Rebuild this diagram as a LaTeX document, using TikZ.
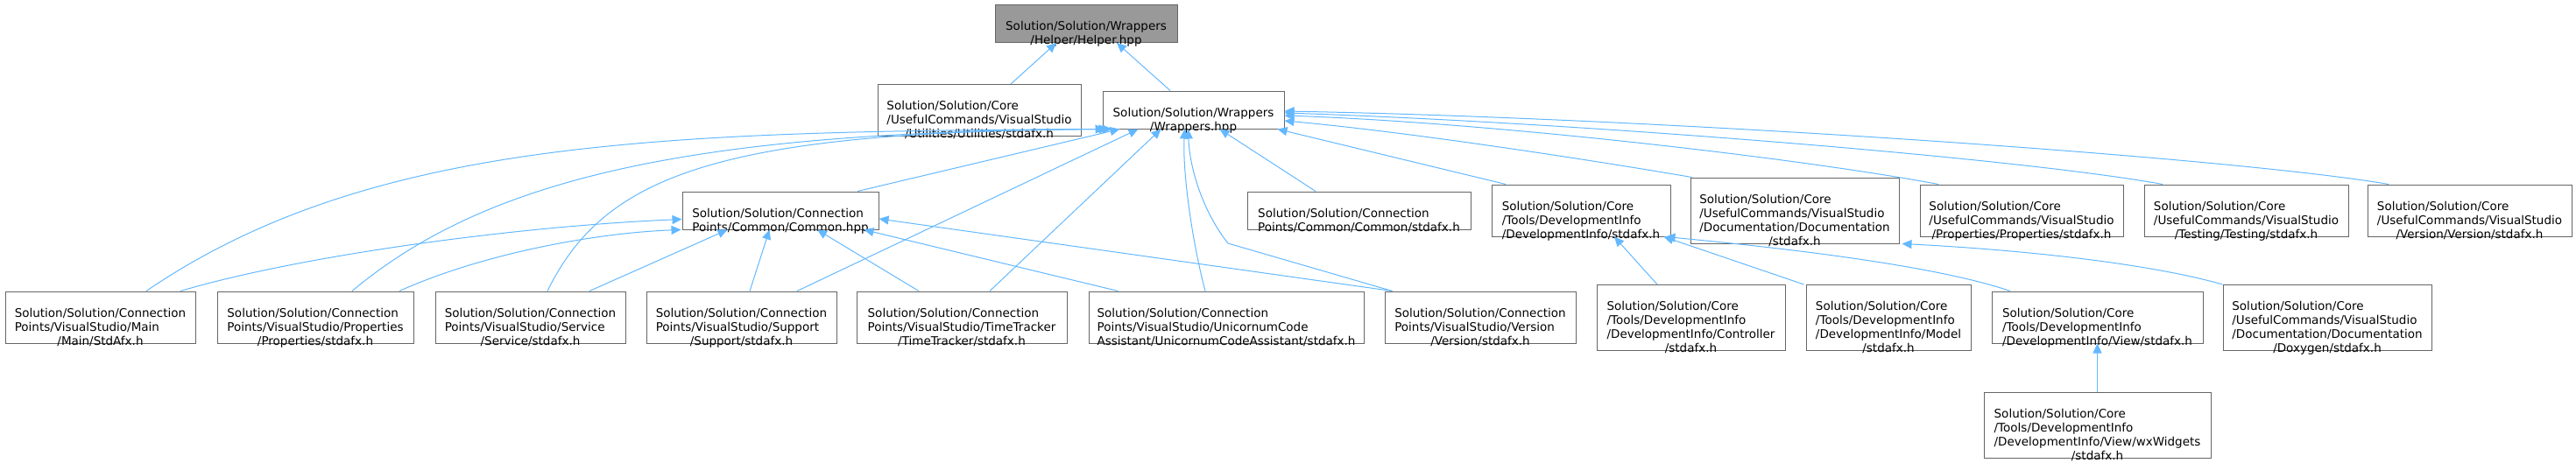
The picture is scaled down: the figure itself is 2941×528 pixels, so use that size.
\documentclass[tikz,border=0pt]{standalone}
\usepackage{fontspec}
\setmainfont{DejaVu Sans}
\usetikzlibrary{arrows.meta}
\definecolor{edgeblue}{HTML}{63B8FF}
\definecolor{boxgray}{HTML}{666666}
\definecolor{rootgray}{HTML}{999999}
% left-aligned lines, last line centred, set a bit low as in the graph
\newcommand{\flines}[2]{\raisebox{-16pt}[0pt][0pt]{\begin{tabular}{@{}l@{}}#1\\\multicolumn{1}{@{}c@{}}{#2}\end{tabular}}}

\begin{document}
\begin{tikzpicture}[
  x=1pt, y=-1pt,
  every node/.style={font=\fontsize{13.5pt}{16pt}\selectfont},
  box/.style={draw=boxgray, fill=white, line width=1pt, inner sep=0pt, minimum width=#1},
  root/.style={box=#1, fill=rootgray},
  h2/.style={minimum height=43pt},
  h3/.style={minimum height=59pt},
  h4/.style={minimum height=75pt},
  arr/.style={-{Triangle[length=11pt, width=10pt]}, edgeblue, line width=1pt},
]
\useasboundingbox (0,0) rectangle (2941,528);

% Row 1
\node[root=208pt, h2] (helper) at (1240, 27) {\flines{Solution/Solution/Wrappers}{/Helper/Helper.hpp}};

% Row 2
\node[box=232pt, h3] (utilities) at (1118, 126) {\flines{Solution/Solution/Core\\/UsefulCommands/VisualStudio}{/Utilities/Utilities/stdafx.h}};
\node[box=207pt, h2] (wrappers) at (1362.5, 125.5) {\flines{Solution/Solution/Wrappers}{/Wrappers.hpp}};

% Row 3
\node[box=224pt, h2] (common) at (891, 240.5) {\flines{Solution/Solution/Connection}{Points/Common/Common.hpp}};
\node[box=255pt, h2] (commonstd) at (1551.5, 240.5) {\flines{Solution/Solution/Connection}{Points/Common/Common/stdafx.h}};
\node[box=204pt, h3] (devinfo) at (1805, 240.5) {\flines{Solution/Solution/Core\\/Tools/DevelopmentInfo}{/DevelopmentInfo/stdafx.h}};
\node[box=238pt, h4] (docu) at (2049, 240.5) {\flines{Solution/Solution/Core\\/UsefulCommands/VisualStudio\\/Documentation/Documentation}{/stdafx.h}};
\node[box=232pt, h3] (propprop) at (2308, 240.5) {\flines{Solution/Solution/Core\\/UsefulCommands/VisualStudio}{/Properties/Properties/stdafx.h}};
\node[box=233pt, h3] (testing) at (2564.5, 240.5) {\flines{Solution/Solution/Core\\/UsefulCommands/VisualStudio}{/Testing/Testing/stdafx.h}};
\node[box=233pt, h3] (versionuc) at (2819.5, 240.5) {\flines{Solution/Solution/Core\\/UsefulCommands/VisualStudio}{/Version/Version/stdafx.h}};

% Row 4
\node[box=217pt, h3] (main) at (114.5, 362.5) {\flines{Solution/Solution/Connection\\Points/VisualStudio/Main}{/Main/StdAfx.h}};
\node[box=224pt, h3] (props) at (360, 362.5) {\flines{Solution/Solution/Connection\\Points/VisualStudio/Properties}{/Properties/stdafx.h}};
\node[box=217pt, h3] (service) at (605.5, 362.5) {\flines{Solution/Solution/Connection\\Points/VisualStudio/Service}{/Service/stdafx.h}};
\node[box=217pt, h3] (support) at (846.5, 362.5) {\flines{Solution/Solution/Connection\\Points/VisualStudio/Support}{/Support/stdafx.h}};
\node[box=240pt, h3] (timetr) at (1098, 362.5) {\flines{Solution/Solution/Connection\\Points/VisualStudio/TimeTracker}{/TimeTracker/stdafx.h}};
\node[box=314pt, h3] (unicorn) at (1400, 362.5) {\flines{Solution/Solution/Connection\\Points/VisualStudio/UnicornumCode}{Assistant/UnicornumCodeAssistant/stdafx.h}};
\node[box=218pt, h3] (versioncp) at (1690, 362.5) {\flines{Solution/Solution/Connection\\Points/VisualStudio/Version}{/Version/stdafx.h}};
\node[box=215pt, h4] (controller) at (1930.5, 363) {\flines{Solution/Solution/Core\\/Tools/DevelopmentInfo\\/DevelopmentInfo/Controller}{/stdafx.h}};
\node[box=188pt, h4] (model) at (2156, 363) {\flines{Solution/Solution/Core\\/Tools/DevelopmentInfo\\/DevelopmentInfo/Model}{/stdafx.h}};
\node[box=241pt, h3] (view) at (2394.5, 362.5) {\flines{Solution/Solution/Core\\/Tools/DevelopmentInfo}{/DevelopmentInfo/View/stdafx.h}};
\node[box=238pt, h4] (doxygen) at (2657, 363) {\flines{Solution/Solution/Core\\/UsefulCommands/VisualStudio\\/Documentation/Documentation}{/Doxygen/stdafx.h}};

% Row 5
\node[box=259pt, h4] (wx) at (2394.5, 485.5) {\flines{Solution/Solution/Core\\/Tools/DevelopmentInfo\\/DevelopmentInfo/View/wxWidgets}{/stdafx.h}};

\coordinate (vbend) at (1402, 278);

% Edges to Helper.hpp
\draw[arr] ([xshift=36pt]utilities.north) -- ([xshift=-34pt]helper.south);
\draw[arr] ([xshift=-26.5pt]wrappers.north) -- ([xshift=35pt]helper.south);

% Edges to Wrappers.hpp
\draw[arr] ([xshift=52.5pt]main.north) .. controls (420,160) and (750,150) .. ([xshift=3pt]wrappers.south west);
\draw[arr] ([xshift=42pt]props.north) .. controls (560,200) and (800,150) .. ([xshift=7pt]wrappers.south west);
\draw[arr] ([xshift=19.5pt]service.north) .. controls (690,200) and (820,150) .. ([xshift=11pt]wrappers.south west);
\draw[arr] ([xshift=88pt]common.north) -- ([xshift=20pt]wrappers.south west);
\draw[arr] ([xshift=63.5pt]support.north) -- ([xshift=41pt]wrappers.south west);
\draw[arr] ([xshift=32pt]timetr.north) -- ([xshift=-37pt]wrappers.south);
\draw[arr] ([xshift=-24pt]unicorn.north) .. controls (1362,280) and (1350,200) .. ([xshift=-10pt]wrappers.south);
\draw[arr] ([xshift=9pt]versioncp.north west) -- (vbend) .. controls (1372,240) and (1358,190) .. ([xshift=-6pt]wrappers.south);
\draw[arr] ([xshift=-49.5pt]commonstd.north) -- ([xshift=30pt]wrappers.south);
\draw[arr] ([xshift=-86pt]devinfo.north) -- ([xshift=-8pt]wrappers.south east);
\draw[arr] ([xshift=2pt]docu.north west) .. controls (1800,180) and (1600,150) .. ([yshift=-12.5pt]wrappers.east);
\draw[arr] ([xshift=-95pt]propprop.north) .. controls (2050,180) and (1700,140) .. ([yshift=-6.5pt]wrappers.east);
\draw[arr] ([xshift=-95.5pt]testing.north) .. controls (2300,180) and (1800,140) .. ([yshift=-3.5pt]wrappers.east);
\draw[arr] ([xshift=-92.5pt]versionuc.north) .. controls (2550,180) and (1900,135) .. ([yshift=-1.5pt]wrappers.east);

% Edges to Common.hpp
\draw[arr] ([xshift=91.5pt]main.north) .. controls (350,290) and (600,258) .. ([yshift=-10pt]common.west);
\draw[arr] ([xshift=96pt]props.north) .. controls (550,290) and (680,266) .. ([xshift=-1pt]common.south west);
\draw[arr] ([xshift=67.5pt]service.north) -- ([xshift=52pt]common.south west);
\draw[arr] ([xshift=9.5pt]support.north) -- ([xshift=100pt]common.south west);
\draw[arr] ([xshift=-49pt]timetr.north) -- ([xshift=42pt]common.south);
\draw[arr] ([xshift=34pt]unicorn.north west) -- ([xshift=-17pt]common.south east);
\draw[arr] ([xshift=9pt]versioncp.north west) -- ([yshift=-9.5pt]common.east);

% Edges to DevelopmentInfo/stdafx.h
\draw[arr] ([xshift=-38.5pt]controller.north) -- ([xshift=38pt]devinfo.south);
\draw[arr] ([xshift=-2pt]model.north west) -- ([xshift=-8pt]devinfo.south east);
\draw[arr] ([xshift=-99.5pt]view.north) .. controls (2200,300) and (2000,280) .. ([xshift=-6pt]devinfo.south east);

% Edges to Documentation/stdafx.h and View/stdafx.h
\draw[arr] (doxygen.north west) .. controls (2450,300) and (2300,285) .. ([xshift=3pt]docu.south east);
\draw[arr] (wx) -- (view);

\end{tikzpicture}
\end{document}
